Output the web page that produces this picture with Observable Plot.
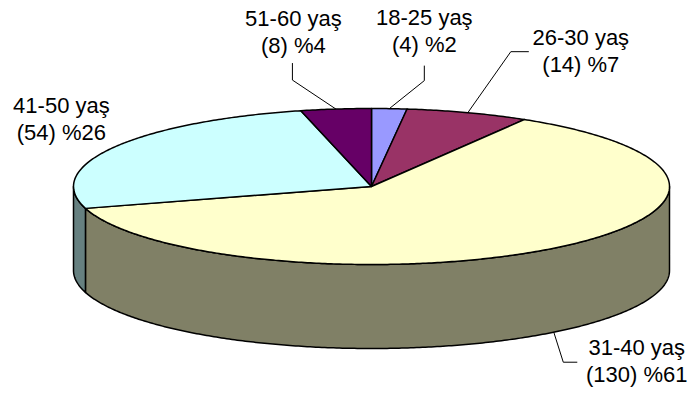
<!DOCTYPE html>
<html>
<head>
<meta charset="utf-8">
<script src="https://cdn.jsdelivr.net/npm/d3@7"></script>
<script src="https://cdn.jsdelivr.net/npm/@observablehq/plot@0.6"></script>
<style>
  body { margin: 0; background: #fff; }
  #chart svg { display: block; }
</style>
</head>
<body>
<div id="chart"></div>
<script>
// Age groups, clockwise from twelve o'clock
const groups = ["18-25 yaş", "26-30 yaş", "31-40 yaş", "41-50 yaş", "51-60 yaş"];
const counts = [4, 14, 130, 54, 8];
const percentLabels = ["%2", "%7", "%61", "%26", "%4"];
const topColors = ["#9999FF", "#993366", "#FFFFCC", "#CCFFFF", "#660066"];
const sideColors = ["#4D4D80", "#4D1A33", "#808066", "#668080", "#330033"];

// Label placement: offsets (px) from the slice's rim anchor to the label
// (centre, last baseline) and to the leader line's elbow and end.
const labelOffsets = [
  {label: [35, -57], leader: [[35, -28], [35, -43]]},
  {label: [113, -41], leader: [[43, -61], [61, -61]]},
  {label: [83, 50], leader: [[9.5, 30], [23.5, 30]]},
  {label: [-52, -8], leader: []},
  {label: [-42.5, -56], leader: [[-43.5, -29], [-43.5, -46]]}
];

// Pie geometry (pixels): centre, radii of the top ellipse, wall depth
const W = 689, H = 396, CX = 371, CY = 186, RX = 298, RY = 78, DEPTH = 84;
const tilt = RY / RX, depth = DEPTH / RX;

const total = d3.sum(counts);
let acc = 0;
const slices = groups.map((g, i) => {
  const a0 = acc / total * 2 * Math.PI;
  acc += counts[i];
  const a1 = acc / total * 2 * Math.PI;
  return {group: g, i, a0, a1, mid: (a0 + a1) / 2};
});

const rim = (a, drop = 0) => ({x: Math.sin(a), y: tilt * Math.cos(a) - drop});
const arcAngles = (a0, a1) => {
  const n = Math.max(2, Math.ceil((a1 - a0) / 0.01));
  return d3.range(n + 1).map(k => a0 + (a1 - a0) * k / n);
};
const closed = pts => [...pts, pts[0]];

// Front walls: the part of each slice facing the viewer
const wallPts = slices.flatMap(s => {
  const a0 = Math.max(s.a0, Math.PI / 2), a1 = Math.min(s.a1, 3 * Math.PI / 2);
  if (a1 <= a0) return [];
  const as = arcAngles(a0, a1);
  const pts = [...as.map(a => rim(a)), ...as.slice().reverse().map(a => rim(a, depth))];
  return closed(pts).map(p => ({...p, key: "wall " + s.group}));
});

// Top faces
const topPts = slices.flatMap(s => {
  const pts = [{x: 0, y: 0}, ...arcAngles(s.a0, s.a1).map(a => rim(a))];
  return closed(pts).map(p => ({...p, key: "top " + s.group}));
});

// Label anchors sit on the top rim, or on the wall's lower edge for front slices
const anchors = slices.map(s => (Math.cos(s.mid) < 0 ? rim(s.mid, depth) : rim(s.mid)));
const px = ([dx, dy], a) => ({x: a.x + dx / RX, y: a.y - dy / RX});

const leaderPts = slices.flatMap((s, i) => {
  const L = labelOffsets[i].leader;
  if (!L.length) return [];
  return [anchors[i], ...L.map(o => px(o, anchors[i]))].map(p => ({...p, key: s.group}));
});

const labels = slices.map((s, i) => ({
  ...px(labelOffsets[i].label, anchors[i]),
  text: `${s.group}\n(${counts[i]}) ${percentLabels[i]}`
}));

const colorDomain = [...groups.map(g => "wall " + g), ...groups.map(g => "top " + g)];
const colorRange = [...sideColors, ...topColors];

const chart = Plot.plot({
  width: W,
  height: H,
  margin: 0,
  style: {background: "#fff", fontFamily: "'Liberation Sans', Arial, sans-serif"},
  x: {domain: [-CX / RX, (W - CX) / RX], range: [0, W], axis: null},
  y: {domain: [(CY - H) / RX, CY / RX], range: [H, 0], axis: null},
  color: {type: "ordinal", domain: colorDomain, range: colorRange},
  marks: [
    Plot.line(wallPts, {x: "x", y: "y", z: "key", fill: "key", stroke: "#000", strokeWidth: 1.5}),
    Plot.line(topPts, {x: "x", y: "y", z: "key", fill: "key", stroke: "#000", strokeWidth: 1.5}),
    Plot.line(leaderPts, {x: "x", y: "y", z: "key", stroke: "#000", strokeWidth: 1, strokeLinejoin: "miter", strokeLinecap: "butt"}),
    Plot.text(labels, {
      x: "x", y: "y", text: "text",
      fontSize: 22, lineHeight: 27 / 22, lineAnchor: "bottom",
      textAnchor: "middle", fill: "#000"
    })
  ]
});

document.getElementById("chart").append(chart);
</script>
</body>
</html>
